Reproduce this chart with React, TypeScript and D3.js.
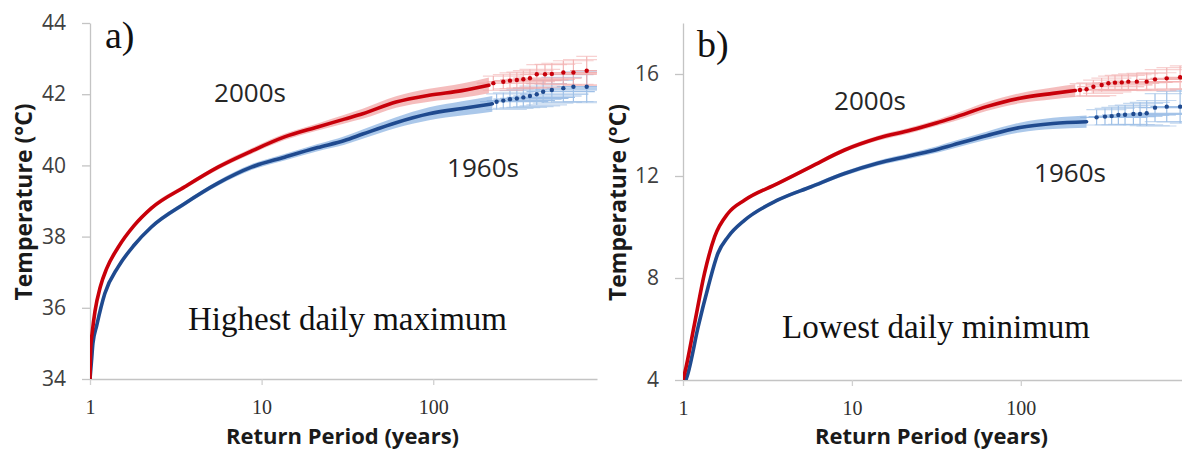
import React, { useEffect, useRef } from 'react';
import * as d3 from 'd3';

// a) highest daily maximum -- return period (years) vs temperature (°C)
const aT2000 = [1, 1.01, 1.03, 1.069, 1.15, 1.25, 1.46, 1.8, 2.28, 3.57, 5.57, 8.72, 13.6, 21.2, 30.4, 38.8, 60.7, 94.6, 147, 211];
const aTemp2000 = [34.0, 34.9, 35.3, 35.9, 36.6, 37.1, 37.7, 38.3, 38.8, 39.4, 39.95, 40.4, 40.8, 41.08, 41.3, 41.45, 41.78, 41.97, 42.1, 42.25];
const aCi2000 = [0, 0.02, 0.03, 0.04, 0.04, 0.05, 0.05, 0.05, 0.06, 0.06, 0.07, 0.08, 0.09, 0.1, 0.12, 0.14, 0.16, 0.18, 0.2, 0.22];
const aT1960 = [1, 1.02, 1.04, 1.094, 1.22, 1.46, 1.8, 2.28, 3.57, 5.57, 8.72, 13.6, 21.2, 30.4, 38.8, 60.7, 94.6, 147, 221];
const aTemp1960 = [34.0, 34.5, 35.0, 35.5, 36.4, 37.15, 37.75, 38.27, 38.93, 39.5, 39.95, 40.23, 40.5, 40.7, 40.88, 41.2, 41.45, 41.6, 41.73];
const aCi1960 = [0, 0.02, 0.03, 0.04, 0.05, 0.05, 0.05, 0.06, 0.06, 0.07, 0.08, 0.09, 0.1, 0.12, 0.13, 0.15, 0.18, 0.2, 0.22];

// tail points with error bars
const aTailT2000 = [224, 256, 280, 307, 335, 366, 401, 448, 491, 573, 656, 784];
const aTailTemp2000 = [42.31, 42.35, 42.38, 42.4, 42.42, 42.45, 42.56, 42.56, 42.57, 42.61, 42.61, 42.66];
const aTailErr2000 = [0.2, 0.2, 0.22, 0.22, 0.24, 0.25, 0.27, 0.28, 0.3, 0.33, 0.36, 0.4];
const aTailT1960 = [234, 256, 280, 307, 335, 366, 401, 437, 491, 573, 656, 784];
const aTailTemp1960 = [41.79, 41.82, 41.86, 41.88, 41.91, 41.95, 42.0, 42.07, 42.12, 42.17, 42.21, 42.21];
const aTailErr1960 = [0.22, 0.22, 0.24, 0.25, 0.26, 0.28, 0.3, 0.32, 0.35, 0.38, 0.42, 0.45];

// b) lowest daily minimum
const bT2000 = [1, 1.023, 1.17, 1.34, 1.54, 1.85, 2.32, 3.65, 5.74, 9.05, 14.2, 22.4, 32.3, 39.8, 62.6, 98.6, 155, 210];
const bTemp2000 = [4.0, 4.26, 6.2, 8.18, 9.62, 10.54, 11.06, 11.71, 12.37, 13.02, 13.48, 13.8, 14.1, 14.28, 14.72, 15.05, 15.24, 15.35];
const bCi2000 = [0, 0.03, 0.04, 0.05, 0.05, 0.06, 0.06, 0.07, 0.08, 0.09, 0.1, 0.11, 0.12, 0.14, 0.17, 0.2, 0.23, 0.25];
const bT1960 = [1.04, 1.07, 1.23, 1.41, 1.61, 1.85, 2.32, 3.65, 5.74, 9.05, 14.2, 22.4, 32.3, 39.8, 62.6, 98.6, 155, 245];
const bTemp1960 = [4.0, 4.26, 6.09, 7.66, 8.97, 9.62, 10.27, 11.06, 11.58, 12.1, 12.5, 12.8, 13.05, 13.22, 13.58, 13.9, 14.06, 14.13];
const bCi1960 = [0, 0.03, 0.04, 0.05, 0.05, 0.06, 0.06, 0.07, 0.08, 0.09, 0.1, 0.11, 0.13, 0.14, 0.16, 0.19, 0.22, 0.24];

const bTailT2000 = [224, 245, 269, 301, 330, 361, 396, 433, 486, 556, 623, 731, 877];
const bTailTemp2000 = [15.37, 15.4, 15.5, 15.57, 15.64, 15.66, 15.67, 15.7, 15.7, 15.7, 15.79, 15.83, 15.87];
const bTailErr2000 = [0.25, 0.25, 0.26, 0.27, 0.28, 0.29, 0.3, 0.31, 0.33, 0.35, 0.38, 0.42, 0.45];
const bTailT1960 = [281, 315, 345, 378, 414, 464, 508, 556, 623, 731, 877];
const bTailTemp1960 = [14.3, 14.33, 14.35, 14.39, 14.4, 14.43, 14.43, 14.46, 14.68, 14.72, 14.72];
const bTailErr1960 = [0.3, 0.32, 0.34, 0.36, 0.38, 0.42, 0.46, 0.5, 0.55, 0.6, 0.65];

const xTicks = [1, 10, 100];
const aYTicks = [34, 36, 38, 40, 42, 44];
const bYTicks = [4, 8, 12, 16];

const RED = '#c8000a';
const RED_LIGHT = '#f2a7a7';
const BLUE = '#1f4a8f';
const BLUE_LIGHT = '#8fb6e3';

const zip = (t: number[], v: number[], e: number[]) => t.map((d, i) => ({ t: d, v: v[i], e: e[i] }));

const App = () => {
  const svgRef = useRef<SVGSVGElement>(null);

  useEffect(() => {
    document.body.style.margin = '0';
    const svg = d3.select(svgRef.current);
    svg.selectAll('*').remove();

    const panels = [
      {
        id: 'a', left: 90, right: 597, top: 23, bottom: 379, yDomain: [34, 44], yTicks: aYTicks,
        series: [
          { line: zip(aT1960, aTemp1960, aCi1960), tail: zip(aTailT1960, aTailTemp1960, aTailErr1960), c: BLUE, l: BLUE_LIGHT },
          { line: zip(aT2000, aTemp2000, aCi2000), tail: zip(aTailT2000, aTailTemp2000, aTailErr2000), c: RED, l: RED_LIGHT },
        ],
        tag: 'a)', tagPos: [105, 48], title: 'Highest daily maximum', titlePos: [188, 330],
        lab2000: [250, 102], lab1960: [483, 177], yLabX: 24,
      },
      {
        id: 'b', left: 683, right: 1182, top: 23, bottom: 380, yDomain: [4, 18], yTicks: bYTicks,
        series: [
          { line: zip(bT1960, bTemp1960, bCi1960), tail: zip(bTailT1960, bTailTemp1960, bTailErr1960), c: BLUE, l: BLUE_LIGHT },
          { line: zip(bT2000, bTemp2000, bCi2000), tail: zip(bTailT2000, bTailTemp2000, bTailErr2000), c: RED, l: RED_LIGHT },
        ],
        tag: 'b)', tagPos: [697, 57], title: 'Lowest daily minimum', titlePos: [782, 338],
        lab2000: [870, 110], lab1960: [1070, 182], yLabX: 618,
      },
    ];

    panels.forEach((p) => {
      const x = d3.scaleLog().domain([1, 900]).range([p.left, p.right]);
      const y = d3.scaleLinear().domain(p.yDomain).range([p.bottom, p.top]);
      const g = svg.append('g');

      svg.append('clipPath').attr('id', `clip-${p.id}`)
        .append('rect').attr('x', p.left).attr('y', 0).attr('width', p.right - p.left).attr('height', p.bottom);

      // axes
      const yAxis = g.append('g').attr('transform', `translate(${p.left},0)`)
        .call(d3.axisLeft(y).tickValues(p.yTicks).tickSize(8).tickSizeOuter(0).tickPadding(16));
      yAxis.select('.domain').attr('stroke', '#c4c4c4').attr('stroke-width', 1.3);
      yAxis.selectAll('.tick line').attr('stroke', '#c4c4c4').attr('stroke-width', 1.3);
      yAxis.selectAll('.tick text').attr('fill', '#404040')
        .style('font-family', '"Open Sans", sans-serif').style('font-size', '21px');

      const xAxis = g.append('g').attr('transform', `translate(0,${p.bottom})`)
        .call(d3.axisBottom(x).tickValues(xTicks).tickSize(6).tickSizeOuter(0).tickFormat(d3.format('d')));
      xAxis.select('.domain').attr('stroke', '#c4c4c4').attr('stroke-width', 1.3);
      xAxis.selectAll('.tick line').attr('stroke', '#d0d0d0').attr('stroke-width', 1.3);
      xAxis.selectAll('.tick text').attr('fill', '#303030').attr('y', 28).attr('dy', '0.35em')
        .style('font-family', '"Liberation Serif", serif').style('font-size', '20px');

      const plot = g.append('g').attr('clip-path', `url(#clip-${p.id})`);

      p.series.forEach((s) => {
        const area = d3.area<any>()
          .x((d) => x(d.t)).y0((d) => y(d.v - d.e)).y1((d) => y(d.v + d.e))
          .curve(d3.curveMonotoneX);
        plot.append('path').datum(s.line).attr('d', area).attr('fill', s.l).attr('opacity', 0.75);

        // error bars for the sparse tail
        const eb = plot.append('g').attr('stroke', s.l).attr('stroke-width', 1.2).attr('opacity', 0.85);
        s.tail.forEach((d) => {
          eb.append('line')
            .attr('x1', x(d.t / 1.25)).attr('x2', x(d.t * 2))
            .attr('y1', y(d.v)).attr('y2', y(d.v));
          eb.append('line')
            .attr('x1', x(d.t)).attr('x2', x(d.t))
            .attr('y1', y(d.v - d.e)).attr('y2', y(d.v + d.e));
          eb.append('line')
            .attr('x1', x(d.t / 1.15)).attr('x2', x(d.t * 1.5))
            .attr('y1', y(d.v + d.e)).attr('y2', y(d.v + d.e)).attr('opacity', 0.6);
          eb.append('line')
            .attr('x1', x(d.t / 1.15)).attr('x2', x(d.t * 1.5))
            .attr('y1', y(d.v - d.e)).attr('y2', y(d.v - d.e)).attr('opacity', 0.6);
        });
      });

      p.series.forEach((s) => {
        const line = d3.line<any>().x((d) => x(d.t)).y((d) => y(d.v)).curve(d3.curveMonotoneX);
        plot.append('path').datum(s.line).attr('d', line)
          .attr('fill', 'none').attr('stroke', s.c).attr('stroke-width', 3.6).attr('stroke-linecap', 'round');
        plot.append('g').selectAll('circle').data(s.tail).join('circle')
          .attr('cx', (d) => x(d.t)).attr('cy', (d) => y(d.v)).attr('r', 2.2).attr('fill', s.c);
      });

      // texts
      g.append('text').attr('x', p.tagPos[0]).attr('y', p.tagPos[1]).text(p.tag)
        .style('font-family', '"Liberation Serif", serif').style('font-size', '38px').attr('fill', '#111');
      g.append('text').attr('x', p.titlePos[0]).attr('y', p.titlePos[1]).text(p.title)
        .style('font-family', '"Liberation Serif", serif').style('font-size', '33px').attr('fill', '#111');
      g.append('text').attr('x', p.lab2000[0]).attr('y', p.lab2000[1]).attr('text-anchor', 'middle').text('2000s')
        .style('font-family', '"Open Sans", sans-serif').style('font-size', '26px').attr('fill', '#262626');
      g.append('text').attr('x', p.lab1960[0]).attr('y', p.lab1960[1]).attr('text-anchor', 'middle').text('1960s')
        .style('font-family', '"Open Sans", sans-serif').style('font-size', '26px').attr('fill', '#262626');
      g.append('text')
        .attr('transform', `translate(${p.yLabX},${(p.top + p.bottom) / 2 + 1}) rotate(-90)`)
        .attr('text-anchor', 'middle').attr('dy', '0.35em').text('Temperature (°C)')
        .style('font-family', '"Open Sans", sans-serif').style('font-size', '23px').style('font-weight', 700).attr('fill', '#1a1a1a');
      g.append('text').attr('x', (p.left + p.right) / 2 - 1).attr('y', 444)
        .attr('text-anchor', 'middle').text('Return Period (years)')
        .style('font-family', '"Open Sans", sans-serif').style('font-size', '22px').style('font-weight', 700).attr('fill', '#1a1a1a');
    });
  }, []);

  return <svg ref={svgRef} width={1182} height={451} style={{ display: 'block' }} />;
};

export default App;
